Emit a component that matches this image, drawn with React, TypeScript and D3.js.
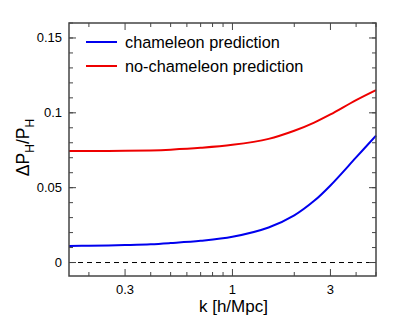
import React from 'react';
import * as d3 from 'd3';

const kValues = [0.16, 0.2, 0.3, 0.4, 0.5, 0.7, 1, 1.5, 2, 2.5, 3, 4, 5];
const chameleon = [0.0111, 0.0112, 0.0117, 0.0122, 0.013, 0.0145, 0.0172, 0.0234, 0.0315, 0.0412, 0.0515, 0.0702, 0.0848];
const noChameleon = [0.0745, 0.0745, 0.0746, 0.0749, 0.0754, 0.0766, 0.0786, 0.0826, 0.088, 0.0935, 0.0989, 0.1085, 0.1152];
const xMajor = [0.3, 1, 3];
const xMinor = [0.2, 0.4, 0.5, 0.6, 0.7, 0.8, 0.9, 2, 4, 5];
const yMajor = [0, 0.05, 0.1, 0.15];
const yMinor = d3.range(0, 0.161, 0.01);
const yLabels = ['0', '0.05', '0.1', '0.15'];
const legendNames = ['chameleon prediction', 'no-chameleon prediction'];
const legendColors = ['#0000ee', '#ee0000'];

const App = () => {
  const W = 415, H = 317;
  const m = { left: 69, right: 39, top: 23, bottom: 41 };
  const x = d3.scaleLog().domain([0.16, 5]).range([m.left, W - m.right]);
  const y = d3.scaleLinear().domain([-0.009, 0.16]).range([H - m.bottom, m.top]);
  const line = d3.line<number>()
    .x((_, i) => x(kValues[i]))
    .y(d => y(d))
    .curve(d3.curveCatmullRom.alpha(0.5));
  const font = 'Liberation Sans, Arial, sans-serif';
  const x0 = m.left, x1 = W - m.right, y0 = H - m.bottom, y1 = m.top;
  const axisColor = '#444';

  return (
    <svg width={W} height={H} style={{ position: 'absolute', left: 0, top: 0 }} fontFamily={font}>
      <rect width={W} height={H} fill="white" />
      {/* zero line */}
      <line x1={x0} x2={x1} y1={y(0)} y2={y(0)} stroke="black" strokeWidth={1} strokeDasharray="5,4" />
      {/* curves */}
      <path d={line(noChameleon) || ''} fill="none" stroke={legendColors[1]} strokeWidth={2} />
      <path d={line(chameleon) || ''} fill="none" stroke={legendColors[0]} strokeWidth={2} />
      {/* ticks */}
      {xMajor.map(v => (
        <g key={'xM' + v}>
          <line x1={x(v)} x2={x(v)} y1={y0} y2={y0 - 7} stroke={axisColor} strokeWidth={1} />
          <line x1={x(v)} x2={x(v)} y1={y1} y2={y1 + 7} stroke={axisColor} strokeWidth={1} />
          <text x={x(v)} y={y0 + 18} fontSize={13} textAnchor="middle" fill="black">{v}</text>
        </g>
      ))}
      {xMinor.map(v => (
        <g key={'xm' + v}>
          <line x1={x(v)} x2={x(v)} y1={y0} y2={y0 - 4} stroke={axisColor} strokeWidth={1} />
          <line x1={x(v)} x2={x(v)} y1={y1} y2={y1 + 4} stroke={axisColor} strokeWidth={1} />
        </g>
      ))}
      {yMinor.map(v => (
        <g key={'ym' + v}>
          <line x1={x0} x2={x0 + 4} y1={y(v)} y2={y(v)} stroke={axisColor} strokeWidth={1} />
          <line x1={x1} x2={x1 - 4} y1={y(v)} y2={y(v)} stroke={axisColor} strokeWidth={1} />
        </g>
      ))}
      {yMajor.map((v, i) => (
        <g key={'yM' + v}>
          <line x1={x0} x2={x0 + 7} y1={y(v)} y2={y(v)} stroke={axisColor} strokeWidth={1} />
          <line x1={x1} x2={x1 - 7} y1={y(v)} y2={y(v)} stroke={axisColor} strokeWidth={1} />
          <text x={x0 - 7} y={y(v) + 4.5} fontSize={13} textAnchor="end" fill="black">{yLabels[i]}</text>
        </g>
      ))}
      {/* frame */}
      <rect x={x0} y={y1} width={x1 - x0} height={y0 - y1} fill="none" stroke={axisColor} strokeWidth={1.5} />
      {/* legend */}
      {legendNames.map((name, i) => (
        <g key={name}>
          <line x1={86} x2={117} y1={42 + i * 24} y2={42 + i * 24} stroke={legendColors[i]} strokeWidth={2} />
          <text x={125} y={48 + i * 24} fontSize={16.3} fill="black">{name}</text>
        </g>
      ))}
      {/* axis labels */}
      <text x={x(1) + 1} y={312} fontSize={17} textAnchor="middle" fill="black">k [h/Mpc]</text>
      <text transform={`translate(29,${(y0 + y1) / 2 - 2}) rotate(-90)`} fontSize={17.5} textAnchor="middle" fill="black">
        ΔP<tspan fontSize={12} dy={5}>H</tspan><tspan dy={-5}>/P</tspan><tspan fontSize={12} dy={5}>H</tspan>
      </text>
    </svg>
  );
};

export default App;
